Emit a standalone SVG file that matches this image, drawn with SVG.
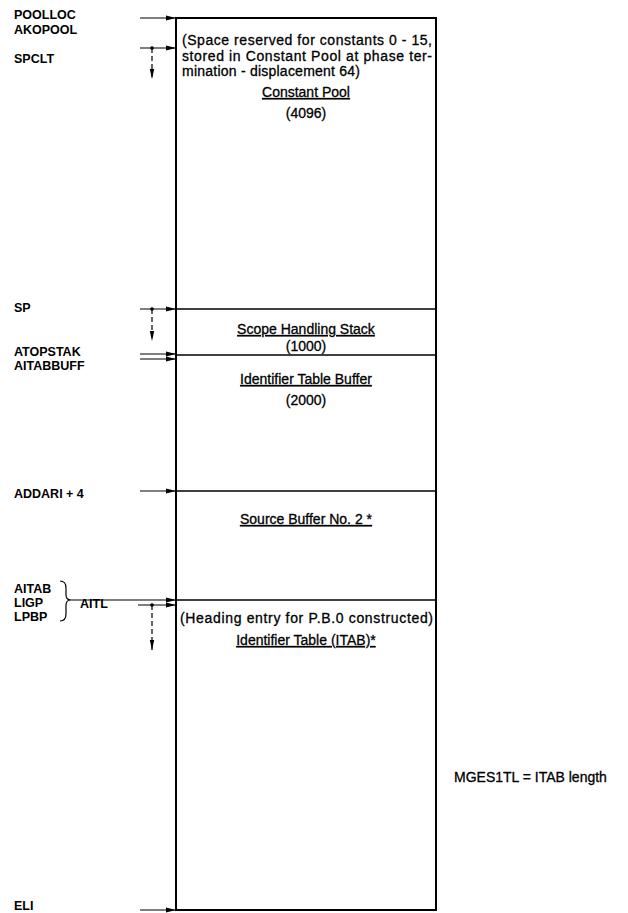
<svg xmlns="http://www.w3.org/2000/svg" width="628" height="913" viewBox="0 0 628 913">
<defs>
<marker id="ah" viewBox="0 0 10 6" refX="10" refY="3" markerWidth="10" markerHeight="6" markerUnits="userSpaceOnUse" orient="auto">
<path d="M0,0.5 L10,3 L0,5.5 Z" fill="#000"/>
</marker>
<marker id="ahd" viewBox="0 0 6 10" refX="3" refY="10" markerWidth="6" markerHeight="10" markerUnits="userSpaceOnUse" orient="0">
<path d="M0.8,0 L3,10 L5.2,0 Z" fill="#000"/>
</marker>
</defs>
<style>
text{font-family:"Liberation Sans",Arial,sans-serif;fill:#000}
.lbl{font-size:12.5px;font-weight:bold}
.t{font-size:14px;stroke:#000;stroke-width:0.3}
.c{text-anchor:middle}
.u{text-decoration:underline}
.box{fill:none;stroke:#000;stroke-width:2}
.div{stroke:#000;stroke-width:1.6}
.arr{stroke:#000;stroke-width:1.2;fill:none;marker-end:url(#ah)}
.dash{stroke:#000;stroke-width:1.2;fill:none;stroke-dasharray:5,3;marker-end:url(#ahd)}
</style>
<rect width="628" height="913" fill="#fff"/>

<g id="memory-box">
<rect class="box" x="176" y="18" width="260" height="892"/>
<line class="div" x1="176" y1="309" x2="436" y2="309"/>
<line class="div" x1="176" y1="355" x2="436" y2="355"/>
<line class="div" x1="176" y1="491" x2="436" y2="491"/>
<line class="div" x1="176" y1="600" x2="436" y2="600"/>
</g>

<g id="constant-pool">
<text class="t" x="182" y="45" textLength="250" lengthAdjust="spacing">(Space reserved for constants 0 - 15,</text>
<text class="t" x="182" y="61" textLength="250" lengthAdjust="spacing">stored in Constant Pool at phase ter-</text>
<text class="t" x="182" y="76" textLength="178" lengthAdjust="spacing">mination - displacement 64)</text>
<text class="t c u" x="306" y="97">Constant Pool</text>
<text class="t c" x="306" y="118">(4096)</text>
</g>

<g id="scope-stack">
<text class="t c u" x="306" y="334">Scope Handling Stack</text>
<text class="t c" x="306" y="351">(1000)</text>
</g>

<g id="id-table-buffer">
<text class="t c u" x="306" y="384">Identifier Table Buffer</text>
<text class="t c" x="306" y="405">(2000)</text>
</g>

<g id="source-buffer">
<text class="t c u" x="306" y="524">Source Buffer No. 2 *</text>
</g>

<g id="id-table">
<text class="t" x="180" y="623" textLength="253" lengthAdjust="spacing">(Heading entry for P.B.0 constructed)</text>
<text class="t c u" x="306" y="645">Identifier Table (ITAB)*</text>
</g>

<g id="labels">
<text class="lbl" x="14" y="19">POOLLOC</text>
<text class="lbl" x="14" y="34">AKOPOOL</text>
<text class="lbl" x="14" y="63">SPCLT</text>
<text class="lbl" x="14" y="312">SP</text>
<text class="lbl" x="14" y="356">ATOPSTAK</text>
<text class="lbl" x="14" y="370">AITABBUFF</text>
<text class="lbl" x="14" y="498">ADDARI + 4</text>
<text class="lbl" x="14" y="593">AITAB</text>
<text class="lbl" x="14" y="607">LIGP</text>
<text class="lbl" x="14" y="621">LPBP</text>
<text class="lbl" x="80" y="608">AITL</text>
<text class="lbl" x="14" y="910">ELI</text>
<text class="t" x="454" y="782">MGES1TL = ITAB length</text>
</g>

<g id="connectors">
<line class="arr" x1="140" y1="18" x2="176" y2="18"/>
<line class="arr" x1="140" y1="48" x2="176" y2="48"/>
<circle cx="152" cy="48" r="1.8"/>
<line class="dash" x1="152" y1="48" x2="152" y2="79"/>
<line class="arr" x1="140" y1="309" x2="176" y2="309"/>
<circle cx="152" cy="309" r="1.8"/>
<line class="dash" x1="152" y1="309" x2="152" y2="341"/>
<line class="arr" x1="140" y1="354" x2="176" y2="354"/>
<line class="arr" x1="140" y1="359" x2="176" y2="359"/>
<line class="arr" x1="140" y1="491" x2="176" y2="491"/>
<path d="M60,581 Q66,581 66,588 L66,595 Q66,600 71,600 Q66,600 66,605 L66,614 Q66,621 60,621" fill="none" stroke="#000" stroke-width="1.2"/>
<line class="arr" x1="71" y1="600" x2="176" y2="600"/>
<line class="arr" x1="138" y1="605" x2="176" y2="605"/>
<circle cx="152" cy="605" r="1.8"/>
<line class="dash" x1="152" y1="605" x2="152" y2="650"/>
<line class="arr" x1="140" y1="910" x2="176" y2="910"/>
</g>
</svg>
